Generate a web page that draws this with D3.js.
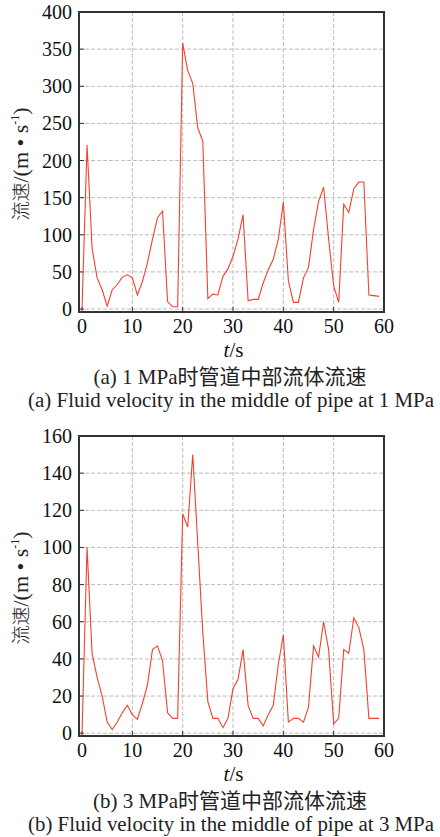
<!DOCTYPE html>
<html>
<head>
<meta charset="utf-8">
<script src="https://cdn.jsdelivr.net/npm/d3@7"></script>
<style>
  body { margin: 0; background: #ffffff; }
  svg { display: block; }
</style>
</head>
<body>
<div id="chart"></div>
<script>
// time axis (s), one sample per second
const times = d3.range(0, 60);

// (a) 1 MPa, velocity in m/s
const velocity1MPa = [0, 221, 82, 42, 26, 4, 26, 33, 43, 46,
  42, 19, 37, 62, 94, 123, 132, 10, 3, 3,
  358, 321, 304, 244, 226, 14, 20, 19, 44, 54,
  71, 94, 127, 11, 13, 13, 35, 53, 67, 94,
  144, 38, 9, 9, 42, 56, 107, 145, 164, 94,
  31, 9, 141, 130, 162, 171, 171, 19, 18, 17];

// (b) 3 MPa, velocity in m/s
const velocity3MPa = [0, 100, 43, 30, 20, 6, 2, 6, 11, 15,
  10, 7.5, 16, 26, 45, 47, 39, 11, 8, 8,
  118, 111, 150, 102, 54, 17, 8, 8, 3, 8,
  24, 29, 45, 15, 8, 8, 4, 10, 15, 37,
  53, 6, 8, 8, 6, 14, 47, 41, 60, 45,
  5, 8, 45, 43, 62, 57, 45, 8, 8, 8];

const xTicks = [0, 10, 20, 30, 40, 50, 60];
const yTicks1 = [0, 50, 100, 150, 200, 250, 300, 350, 400];
const yTicks2 = [0, 20, 40, 60, 80, 100, 120, 140, 160];

const captions1 = ["(a) 1 MPa时管道中部流体流速", "(a) Fluid velocity in the middle of pipe at 1 MPa"];
const captions2 = ["(b) 3 MPa时管道中部流体流速", "(b) Fluid velocity in the middle of pipe at 3 MPa"];

const W = 440, H = 837;
const serif = "'Liberation Serif', 'Times New Roman', serif";
const cjk = "'Liberation Serif', 'Noto Sans CJK SC', serif";
const cjkOnly = "'Noto Sans CJK SC', sans-serif";

const svg = d3.select("#chart").append("svg")
    .attr("width", W)
    .attr("height", H);

function drawPanel(opts) {
    const { top, bottom, yDomain, yTicks, values, captions } = opts;
    const left = 79, right = 384;

    const x = d3.scaleLinear().domain([-0.6, 60]).range([left, right]);
    const y = d3.scaleLinear().domain(yDomain).range([bottom, top]);

    const g = svg.append("g");

    // grid
    g.append("g").selectAll("line")
        .data(xTicks.slice(1, -1))
        .enter().append("line")
        .attr("x1", d => x(d)).attr("x2", d => x(d))
        .attr("y1", top).attr("y2", bottom)
        .attr("stroke", "#bdbdbd")
        .attr("stroke-width", 1)
        .attr("stroke-dasharray", "4,2");

    g.append("g").selectAll("line")
        .data(yTicks.slice(0, -1))
        .enter().append("line")
        .attr("x1", left).attr("x2", right)
        .attr("y1", d => y(d)).attr("y2", d => y(d))
        .attr("stroke", "#bdbdbd")
        .attr("stroke-width", 1)
        .attr("stroke-dasharray", "4,2");

    // inward ticks
    g.append("g").selectAll("line")
        .data(xTicks.slice(0, -1))
        .enter().append("line")
        .attr("x1", d => x(d)).attr("x2", d => x(d))
        .attr("y1", bottom).attr("y2", bottom - 5)
        .attr("stroke", "#333");

    g.append("g").selectAll("line")
        .data(yTicks.slice(0, -1))
        .enter().append("line")
        .attr("x1", left).attr("x2", left + 5)
        .attr("y1", d => y(d)).attr("y2", d => y(d))
        .attr("stroke", "#333");

    // data line
    const line = d3.line()
        .x((d, i) => x(times[i]))
        .y(d => y(d));

    g.append("path")
        .datum(values)
        .attr("d", line)
        .attr("fill", "none")
        .attr("stroke", "#f4402e")
        .attr("stroke-width", 1.1);

    // frame
    g.append("rect")
        .attr("x", left).attr("y", top)
        .attr("width", right - left).attr("height", bottom - top)
        .attr("fill", "none")
        .attr("stroke", "#333")
        .attr("stroke-width", 2);

    // tick labels
    g.append("g").selectAll("text")
        .data(xTicks)
        .enter().append("text")
        .attr("x", d => x(d))
        .attr("y", bottom + 21)
        .attr("text-anchor", "middle")
        .attr("font-family", serif)
        .attr("font-size", 20)
        .attr("fill", "#111")
        .text(d => d);

    g.append("g").selectAll("text")
        .data(yTicks)
        .enter().append("text")
        .attr("x", 72)
        .attr("y", d => y(d) + 7)
        .attr("text-anchor", "end")
        .attr("font-family", serif)
        .attr("font-size", 20)
        .attr("fill", "#111")
        .text(d => d);

    // x label
    const xl = g.append("text")
        .attr("x", (left + right) / 2 + 2)
        .attr("y", bottom + 45)
        .attr("text-anchor", "middle")
        .attr("font-family", serif)
        .attr("font-size", 21)
        .attr("fill", "#111");
    xl.append("tspan").attr("font-style", "italic").text("t");
    xl.append("tspan").text("/s");

    // y label
    const yl = g.append("text")
        .attr("transform", `translate(28, ${(top + bottom) / 2 + 2}) rotate(-90)`)
        .attr("text-anchor", "middle")
        .attr("font-family", cjk)
        .attr("font-size", 22)
        .attr("fill", "#222");
    yl.append("tspan").attr("font-family", cjkOnly).attr("font-size", 19).attr("font-weight", 300).text("流速");
    yl.append("tspan").text("/(m • s");
    yl.append("tspan").attr("font-size", 12).attr("dy", -9).text("-1");
    yl.append("tspan").attr("dy", 9).text(")");

    // captions
    g.append("text")
        .attr("x", 230)
        .attr("y", bottom + 72)
        .attr("text-anchor", "middle")
        .attr("font-family", cjk)
        .attr("font-size", 21)
        .attr("fill", "#222")
        .text(captions[0]);

    g.append("text")
        .attr("x", 231)
        .attr("y", bottom + 95)
        .attr("text-anchor", "middle")
        .attr("font-family", serif)
        .attr("font-size", 20)
        .attr("textLength", 406)
        .attr("lengthAdjust", "spacingAndGlyphs")
        .attr("fill", "#222")
        .text(captions[1]);
}

drawPanel({ top: 12, bottom: 312, yDomain: [-4, 400], yTicks: yTicks1, values: velocity1MPa, captions: captions1 });
drawPanel({ top: 436, bottom: 736, yDomain: [-1.5, 160], yTicks: yTicks2, values: velocity3MPa, captions: captions2 });
</script>
</body>
</html>
